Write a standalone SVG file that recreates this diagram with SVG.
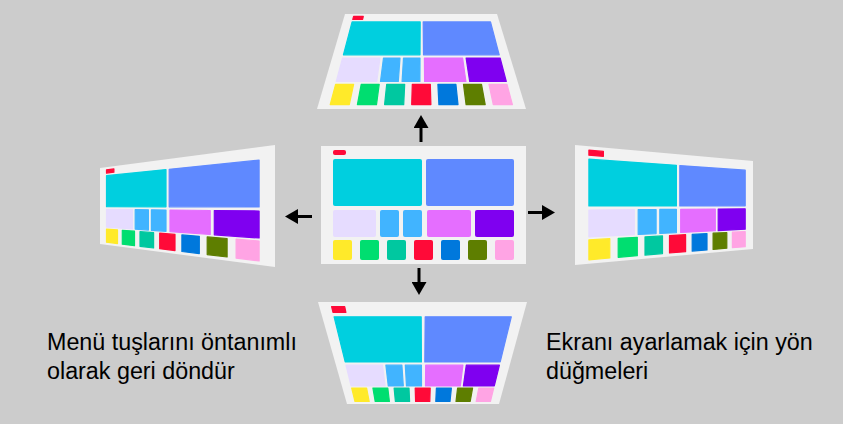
<svg xmlns="http://www.w3.org/2000/svg" width="843" height="424" viewBox="0 0 843 424">
<defs>
<style>
.bg{fill:#cccccc}
.pn{fill:#f2f2f2}
.q polygon{stroke-width:1.2;stroke-linejoin:round}
.ind{fill:#ff0a38;stroke:#ff0a38}
.cy{fill:#00cfdf;stroke:#00cfdf}
.bl{fill:#5f89ff;stroke:#5f89ff}
.lv{fill:#e6dcff;stroke:#e6dcff}
.lb{fill:#41b4ff;stroke:#41b4ff}
.pk{fill:#e56eff;stroke:#e56eff}
.pu{fill:#7f00f0;stroke:#7f00f0}
.ye{fill:#ffea2a;stroke:#ffea2a}
.gr{fill:#00de70;stroke:#00de70}
.te{fill:#00c8a0;stroke:#00c8a0}
.rd{fill:#ff0a38;stroke:#ff0a38}
.b2{fill:#0078dc;stroke:#0078dc}
.ol{fill:#5e7e00;stroke:#5e7e00}
.lp{fill:#ffa4e4;stroke:#ffa4e4}
#panel-center rect{stroke:none}
.arr{stroke:#000;stroke-width:3;fill:none;marker-end:url(#ah)}
.lbl{font-family:"Liberation Sans",Arial,sans-serif;font-size:23.3px;fill:#000}
</style>
<marker id="ah" viewBox="0 0 13 15" refX="0" refY="7.5" markerWidth="13" markerHeight="15" markerUnits="userSpaceOnUse" orient="auto">
<path d="M0,0 L13,7.5 L0,15 z" fill="#000"/>
</marker>
</defs>
<rect class="bg" x="0" y="0" width="843" height="424"/>

<g id="panel-center">
<rect class="pn" x="321" y="146" width="205" height="118"/>
<rect class="ind" x="333" y="150" width="13" height="5" rx="2"/>
<rect class="cy" x="333" y="159" width="89" height="47" rx="2"/>
<rect class="bl" x="426" y="159" width="88" height="47" rx="2"/>
<rect class="lv" x="333" y="210" width="43" height="27" rx="2"/>
<rect class="lb" x="380" y="210" width="19" height="27" rx="2"/>
<rect class="lb" x="403" y="210" width="19" height="27" rx="2"/>
<rect class="pk" x="427" y="210" width="44" height="27" rx="2"/>
<rect class="pu" x="475" y="210" width="39" height="27" rx="2"/>
<rect class="ye" x="333" y="240" width="19" height="20" rx="2"/>
<rect class="gr" x="360" y="240" width="19" height="20" rx="2"/>
<rect class="te" x="387" y="240" width="19" height="20" rx="2"/>
<rect class="rd" x="414" y="240" width="19" height="20" rx="2"/>
<rect class="b2" x="441" y="240" width="19" height="20" rx="2"/>
<rect class="ol" x="468" y="240" width="19" height="20" rx="2"/>
<rect class="lp" x="495" y="240" width="19" height="20" rx="2"/>
</g>

<g id="panel-top" class="q">
<polygon class="pn" points="345,14 497,14 526,109 317,109" style="stroke:none"/>
<polygon class="ind" points="353.6,16.4 363.3,16.4 362.6,19.4 352.8,19.4"/>
<polygon class="cy" points="352.1,21.9 420.2,21.9 420.0,54.8 343.4,54.8"/>
<polygon class="bl" points="423.2,21.9 490.5,21.9 499.2,54.8 423.5,54.8"/>
<polygon class="lv" points="342.6,58.0 380.0,58.0 376.7,81.5 336.3,81.5"/>
<polygon class="lb" points="383.5,58.0 400.0,58.0 398.3,81.5 380.5,81.5"/>
<polygon class="lb" points="403.5,58.0 420.0,58.0 419.9,81.5 402.1,81.5"/>
<polygon class="pk" points="424.4,58.0 462.6,58.0 465.9,81.5 424.6,81.5"/>
<polygon class="pu" points="466.1,58.0 500.1,58.0 506.3,81.5 469.7,81.5"/>
<polygon class="ye" points="335.6,84.3 353.6,84.3 349.3,104.6 330.2,104.6"/>
<polygon class="gr" points="361.2,84.3 379.2,84.3 376.5,104.6 357.4,104.6"/>
<polygon class="te" points="386.7,84.3 404.7,84.3 403.7,104.6 384.6,104.6"/>
<polygon class="rd" points="412.3,84.3 430.3,84.3 430.9,104.6 411.7,104.6"/>
<polygon class="b2" points="437.9,84.3 455.9,84.3 458.0,104.6 438.9,104.6"/>
<polygon class="ol" points="463.5,84.3 481.5,84.3 485.2,104.6 466.1,104.6"/>
<polygon class="lp" points="489.0,84.3 507.0,84.3 512.4,104.6 493.3,104.6"/>
</g>

<g id="panel-bottom" class="q">
<polygon class="pn" points="318,302 527,302 499,404 347,404" style="stroke:none"/>
<polygon class="ind" points="331.6,306.7 344.7,306.7 345.9,312.4 333.0,312.4"/>
<polygon class="cy" points="334.1,316.8 421.2,316.8 421.4,361.9 345.2,361.9"/>
<polygon class="bl" points="425.2,316.8 511.3,316.8 500.2,361.9 424.8,361.9"/>
<polygon class="lv" points="346.0,365.2 382.5,365.2 385.1,385.9 351.1,385.9"/>
<polygon class="lb" points="385.9,365.2 401.9,365.2 403.3,385.9 388.3,385.9"/>
<polygon class="lb" points="405.3,365.2 421.4,365.2 421.5,385.9 406.5,385.9"/>
<polygon class="pk" points="425.7,365.2 462.9,365.2 460.3,385.9 425.5,385.9"/>
<polygon class="pu" points="466.3,365.2 499.4,365.2 494.3,385.9 463.4,385.9"/>
<polygon class="ye" points="351.7,388.0 366.6,388.0 369.2,401.5 355.0,401.5"/>
<polygon class="gr" points="372.9,388.0 387.8,388.0 389.4,401.5 375.2,401.5"/>
<polygon class="te" points="394.1,388.0 409.0,388.0 409.6,401.5 395.4,401.5"/>
<polygon class="rd" points="415.2,388.0 430.2,388.0 429.8,401.5 415.6,401.5"/>
<polygon class="b2" points="436.4,388.0 451.4,388.0 450.0,401.5 435.8,401.5"/>
<polygon class="ol" points="457.6,388.0 472.6,388.0 470.2,401.5 456.0,401.5"/>
<polygon class="lp" points="478.8,388.0 493.7,388.0 490.4,401.5 476.2,401.5"/>
</g>

<g id="panel-left" class="q">
<polygon class="pn" points="100,168 275,145 275,267 100,244" style="stroke:none"/>
<polygon class="ind" points="106.5,169.8 113.9,168.9 113.9,172.2 106.5,173.1"/>
<polygon class="cy" points="106.5,175.7 166.0,169.6 166.0,206.8 106.5,206.7"/>
<polygon class="bl" points="169.2,169.3 259.1,160.1 259.1,207.0 169.2,206.8"/>
<polygon class="lv" points="106.5,209.3 132.5,209.6 132.5,228.9 106.5,227.1"/>
<polygon class="lb" points="135.2,209.6 148.4,209.8 148.4,230.1 135.2,229.1"/>
<polygon class="lb" points="151.4,209.8 166.0,210.0 166.0,231.3 151.4,230.3"/>
<polygon class="pk" points="170.0,210.0 210.2,210.5 210.2,234.5 170.0,231.6"/>
<polygon class="pu" points="214.3,210.5 259.1,211.0 259.1,238.0 214.3,234.8"/>
<polygon class="ye" points="106.5,229.1 117.5,229.9 117.5,243.6 106.5,242.2"/>
<polygon class="gr" points="122.3,230.3 134.5,231.2 134.5,245.7 122.3,244.2"/>
<polygon class="te" points="140.0,231.7 153.6,232.7 153.6,248.0 140.0,246.3"/>
<polygon class="rd" points="159.7,233.2 175.0,234.4 175.0,250.6 159.7,248.7"/>
<polygon class="b2" points="181.9,234.9 199.3,236.3 199.3,253.6 181.9,251.5"/>
<polygon class="ol" points="207.2,236.9 227.1,238.5 227.1,257.0 207.2,254.6"/>
<polygon class="lp" points="236.1,239.2 259.1,241.0 259.1,260.9 236.1,258.1"/>
</g>

<g id="panel-right" class="q">
<polygon class="pn" points="575,145 753,161 753,249 575,265" style="stroke:none"/>
<polygon class="ind" points="588.9,150.2 603.4,151.4 603.4,156.3 588.9,155.2"/>
<polygon class="cy" points="588.9,159.2 676.4,165.3 676.4,205.9 588.9,206.0"/>
<polygon class="bl" points="679.8,165.6 745.2,170.2 745.2,205.8 679.8,205.9"/>
<polygon class="lv" points="588.9,210.0 634.3,209.6 634.3,234.7 588.9,236.9"/>
<polygon class="lb" points="638.2,209.6 656.1,209.5 656.1,233.6 638.2,234.5"/>
<polygon class="lb" points="659.8,209.4 676.4,209.3 676.4,232.6 659.8,233.4"/>
<polygon class="pk" points="680.7,209.3 715.3,209.0 715.3,230.7 680.7,232.4"/>
<polygon class="pu" points="718.2,209.0 745.2,208.8 745.2,229.2 718.2,230.6"/>
<polygon class="ye" points="588.9,239.9 609.8,238.7 609.8,258.0 588.9,259.8"/>
<polygon class="gr" points="618.2,238.3 637.3,237.3 637.3,255.7 618.2,257.3"/>
<polygon class="te" points="645.0,236.9 662.5,235.9 662.5,253.6 645.0,255.1"/>
<polygon class="rd" points="669.5,235.6 685.6,234.7 685.6,251.7 669.5,253.0"/>
<polygon class="b2" points="692.2,234.4 707.0,233.6 707.0,249.9 692.2,251.1"/>
<polygon class="ol" points="713.1,233.2 726.8,232.5 726.8,248.2 713.1,249.4"/>
<polygon class="lp" points="732.4,232.2 745.2,231.5 745.2,246.7 732.4,247.7"/>
</g>

<g id="connectors">
<line class="arr" x1="421" y1="142" x2="421" y2="128"/>
<line class="arr" x1="419" y1="268" x2="419" y2="282"/>
<line class="arr" x1="312" y1="216.5" x2="298" y2="216.5"/>
<line class="arr" x1="528" y1="212.5" x2="542" y2="212.5"/>
</g>

<g id="labels">
<text class="lbl" x="47" y="350">Menü tuşlarını öntanımlı</text>
<text class="lbl" x="47" y="379">olarak geri döndür</text>
<text class="lbl" x="546" y="350">Ekranı ayarlamak için yön</text>
<text class="lbl" x="546" y="379">düğmeleri</text>
</g>
</svg>
